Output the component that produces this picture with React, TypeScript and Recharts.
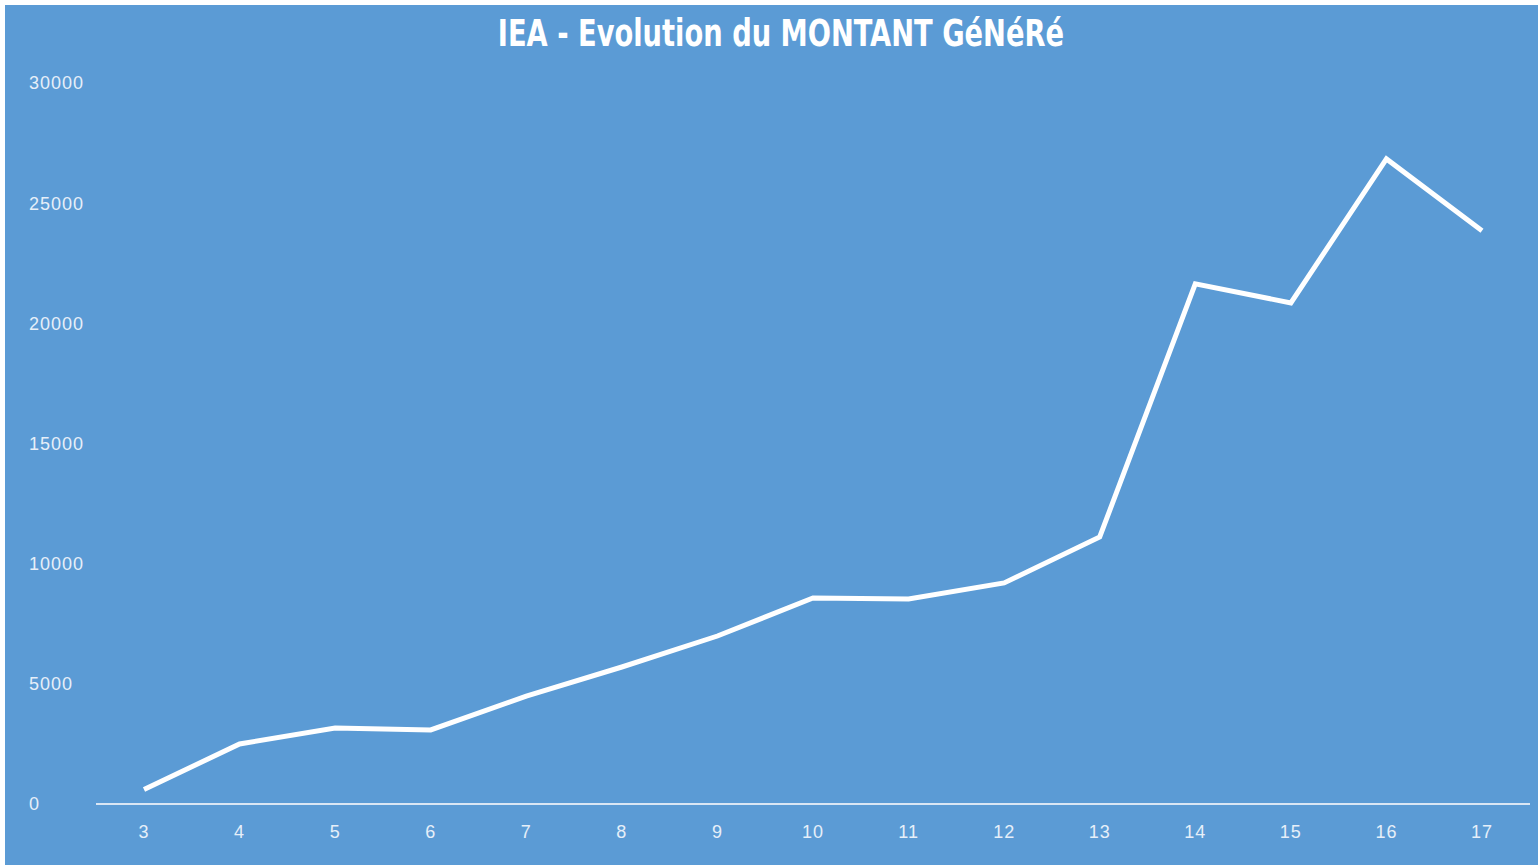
import { LineChart, Line, XAxis, YAxis } from 'recharts'

const periods = ['3', '4', '5', '6', '7', '8', '9', '10', '11', '12', '13', '14', '15', '16', '17']
const montants = [600, 2500, 3160, 3080, 4490, 5700, 6990, 8570, 8530, 9200, 11110, 21640, 20850, 26840, 23850]
const yTicks = [0, 5000, 10000, 15000, 20000, 25000, 30000]

const data = periods.map((p, i) => ({ periode: p, montant: montants[i] }))

const font = "'Liberation Sans', Arial, sans-serif"
const tickStyle = { fontSize: 18, fill: '#E6EFF9', fontFamily: font, letterSpacing: 1 }

// Excel aligns these labels on their left edge
const LeftTick = (props: any) => {
  const { y, payload } = props
  return (
    <text x={24} y={y} dy="0.355em" textAnchor="start" fontSize={18} fill="#E6EFF9" fontFamily={font} letterSpacing={1}>
      {payload.value}
    </text>
  )
}

export default function App() {
  return (
    <div style={{ position: 'relative', width: 1538, height: 865, background: '#fff' }}>
      <style>{'body{margin:0}'}</style>
      <div style={{ position: 'absolute', left: 5, top: 5, width: 1533, height: 860, background: '#5B9BD5' }}>
        <div
          style={{
            position: 'absolute', left: 0, width: 1550, top: 8, textAlign: 'center',
            fontFamily: "'DejaVu Sans Condensed', sans-serif", fontWeight: 600,
            fontSize: 37, color: '#fff', lineHeight: '42px',
            transform: 'scaleX(0.82)', transformOrigin: '780px 0',
          }}
        >
          IEA - Evolution du MONTANT GéNéRé
        </div>
        <LineChart width={1533} height={860} data={data} margin={{ top: 78, right: 8, bottom: 0, left: 0 }}>
          <XAxis
            dataKey="periode"
            height={61}
            padding={{ left: 48, right: 48 }}
            tickLine={false}
            tickSize={0}
            tickMargin={21}
            axisLine={{ stroke: '#D9E6F4', strokeWidth: 2 }}
            tick={tickStyle}
            interval={0}
          />
          <YAxis
            width={91}
            domain={[0, 30000]}
            ticks={yTicks}
            axisLine={false}
            tickLine={false}
            tickSize={0}
            tick={<LeftTick />}
          />
          <Line
            type="linear"
            dataKey="montant"
            stroke="#FFFFFF"
            strokeWidth={5}
            dot={false}
            activeDot={false}
            isAnimationActive={false}
          />
        </LineChart>
      </div>
    </div>
  )
}
